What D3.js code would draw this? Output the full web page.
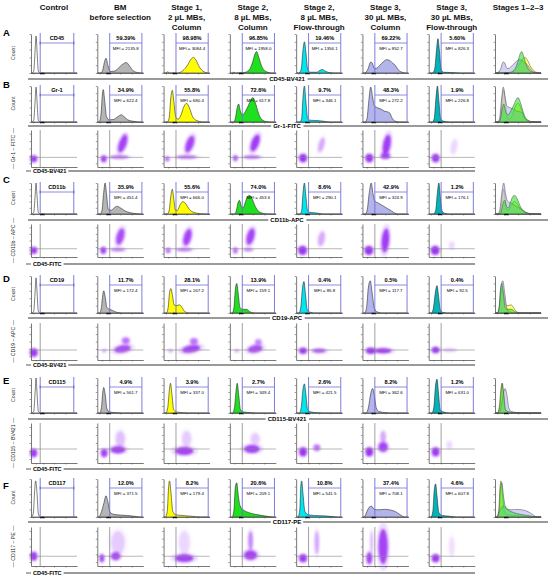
<!DOCTYPE html>
<html><head><meta charset="utf-8">
<script src="https://cdn.jsdelivr.net/npm/d3@7"></script>
<style>body{margin:0;background:#fff}svg{display:block;font-family:"Liberation Sans",Arial,sans-serif}</style>
</head><body><svg id="c" width="550" height="581"></svg>
<script>
// ---------------- DATA ----------------
const columnTitles = [["Control"],["BM","before selection"],["Stage 1,","2 µL MBs,","Column"],["Stage 2,","8 µL MBs,","Column"],
  ["Stage 2,","8 µL MBs,","Flow-through"],["Stage 3,","30 µL MBs,","Column"],["Stage 3,","30 µL MBs,","Flow-through"],["Stages 1–2–3"]];
const rowLetters = ["A","B","C","D","E","F"];
const markers = ["CD45","Gr-1","CD11b","CD19","CD115","CD117"];
const histAxisLabels = ["CD45-BV421","Gr-1-FITC","CD11b-APC","CD19-APC","CD115-BV421","CD117-PE"];
const dotYLabels = [null,"— Gr-1 – FITC —","— CD11b – APC —","— CD19 – APC —","— CD115 – BV421 —","— CD117 – PE —"];
const dotXLabels = [null,"CD45-BV421","CD45-FITC","CD45-BV421","CD45-FITC","CD45-FITC"];
const percents = [
  ["59.39%","98.98%","96.85%","19.46%","69.22%","5.60%"],
  ["34.9%","55.8%","72.6%","9.7%","48.3%","1.9%"],
  ["35.9%","55.6%","74.0%","8.6%","42.9%","1.2%"],
  ["11.7%","28.1%","13.9%","0.4%","0.5%","0.4%"],
  ["4.9%","3.9%","2.7%","2.6%","8.2%","1.2%"],
  ["12.0%","8.2%","20.6%","10.8%","37.4%","4.6%"]];
const mfis = [
  ["2135.8","3084.4","1958.0","1356.1","852.7","826.3"],
  ["622.4","680.4","617.8","346.1","272.2","226.8"],
  ["451.4","666.0","453.6","290.1","324.9","176.1"],
  ["172.4","167.2","159.1","85.8","117.7","92.5"],
  ["561.7","337.0","349.4","421.5","362.6","631.0"],
  ["371.5","179.4","209.1","541.5","708.1","607.8"]];

// histogram key points [relative fluorescence, relative count]; order: control, BM, S1, S2 col, S2 FT, S3 col, S3 FT
const histCD45 = [
  [[0.02,0],[0.06,0.05],[0.09,0.6],[0.11,0.95],[0.13,0.6],[0.16,0.05],[0.2,0]],
  [[0.08,0],[0.12,0.08],[0.16,0.3],[0.19,0.38],[0.23,0.2],[0.28,0.04],[0.38,0.05],[0.48,0.15],[0.57,0.24],[0.63,0.27],[0.7,0.18],[0.78,0.06],[0.88,0.01],[0.95,0]],
  [[0.05,0],[0.09,0.03],[0.13,0],[0.3,0],[0.42,0.06],[0.52,0.2],[0.6,0.36],[0.65,0.4],[0.7,0.34],[0.78,0.15],[0.88,0.03],[0.97,0]],
  [[0.05,0],[0.08,0.02],[0.12,0],[0.3,0.01],[0.42,0.08],[0.5,0.3],[0.55,0.5],[0.58,0.55],[0.63,0.4],[0.7,0.15],[0.8,0.03],[0.9,0]],
  [[0.06,0],[0.11,0.1],[0.15,0.6],[0.18,0.8],[0.21,0.55],[0.25,0.1],[0.3,0.02],[0.45,0.02],[0.52,0.07],[0.57,0.09],[0.63,0.05],[0.72,0.01],[0.85,0]],
  [[0.05,0],[0.12,0.1],[0.18,0.28],[0.21,0.26],[0.26,0.12],[0.3,0.12],[0.38,0.2],[0.45,0.28],[0.52,0.34],[0.58,0.33],[0.65,0.26],[0.71,0.2],[0.78,0.08],[0.86,0.02],[0.94,0]],
  [[0.08,0],[0.13,0.1],[0.17,0.6],[0.2,0.88],[0.23,0.6],[0.27,0.1],[0.32,0.02],[0.5,0.01],[0.7,0]]];
const histGr1 = [
  [[0.02,0],[0.06,0.05],[0.09,0.6],[0.11,0.97],[0.13,0.6],[0.16,0.05],[0.2,0]],
  [[0.04,0],[0.08,0.2],[0.11,0.75],[0.13,0.9],[0.16,0.6],[0.2,0.15],[0.26,0.06],[0.35,0.07],[0.45,0.15],[0.52,0.2],[0.58,0.15],[0.66,0.06],[0.78,0.02],[0.9,0]],
  [[0.08,0],[0.12,0.1],[0.16,0.7],[0.19,0.88],[0.22,0.6],[0.27,0.12],[0.32,0.08],[0.38,0.2],[0.44,0.42],[0.5,0.52],[0.56,0.4],[0.63,0.15],[0.72,0.04],[0.85,0]],
  [[0.08,0],[0.12,0.1],[0.16,0.4],[0.19,0.5],[0.23,0.3],[0.28,0.2],[0.34,0.3],[0.4,0.45],[0.46,0.62],[0.5,0.68],[0.55,0.55],[0.62,0.25],[0.7,0.06],[0.8,0.01],[0.9,0]],
  [[0.08,0],[0.12,0.1],[0.15,0.7],[0.18,1.0],[0.21,0.6],[0.25,0.1],[0.3,0.05],[0.45,0.04],[0.55,0.03],[0.65,0.01],[0.75,0]],
  [[0.06,0],[0.1,0.1],[0.14,0.6],[0.18,0.97],[0.22,0.7],[0.26,0.45],[0.32,0.4],[0.4,0.36],[0.48,0.3],[0.55,0.28],[0.6,0.24],[0.64,0.12],[0.7,0.03],[0.8,0]],
  [[0.08,0],[0.12,0.1],[0.16,0.7],[0.19,1.0],[0.22,0.6],[0.26,0.1],[0.32,0.02],[0.45,0]]];
const histCD11b = [
  [[0.02,0],[0.06,0.05],[0.09,0.6],[0.11,1.0],[0.13,0.6],[0.16,0.05],[0.2,0]],
  [[0.06,0],[0.1,0.1],[0.14,0.7],[0.17,1.0],[0.2,0.65],[0.24,0.15],[0.3,0.12],[0.37,0.2],[0.43,0.25],[0.5,0.2],[0.6,0.1],[0.72,0.04],[0.85,0.01],[0.95,0]],
  [[0.08,0],[0.12,0.1],[0.16,0.6],[0.19,0.8],[0.22,0.5],[0.26,0.12],[0.3,0.12],[0.36,0.3],[0.42,0.4],[0.48,0.33],[0.56,0.15],[0.66,0.05],[0.8,0.01],[0.9,0]],
  [[0.1,0],[0.14,0.1],[0.18,0.38],[0.21,0.44],[0.25,0.25],[0.29,0.2],[0.34,0.4],[0.39,0.57],[0.43,0.6],[0.48,0.5],[0.55,0.25],[0.63,0.08],[0.72,0.02],[0.85,0]],
  [[0.08,0],[0.12,0.1],[0.15,0.7],[0.18,1.0],[0.21,0.6],[0.25,0.1],[0.3,0.05],[0.4,0.04],[0.5,0.02],[0.6,0]],
  [[0.06,0],[0.1,0.1],[0.15,0.7],[0.19,1.0],[0.23,0.65],[0.27,0.42],[0.35,0.35],[0.45,0.26],[0.55,0.17],[0.63,0.1],[0.7,0.03],[0.78,0]],
  [[0.1,0],[0.15,0.1],[0.19,0.7],[0.22,1.0],[0.25,0.6],[0.29,0.1],[0.35,0.02],[0.45,0]]];
const histCD19 = [
  [[0.02,0],[0.06,0.05],[0.09,0.6],[0.11,0.95],[0.13,0.6],[0.16,0.05],[0.2,0]],
  [[0.05,0],[0.09,0.15],[0.12,0.5],[0.14,0.6],[0.17,0.45],[0.21,0.15],[0.27,0.1],[0.33,0.07],[0.42,0.02],[0.55,0]],
  [[0.06,0],[0.1,0.15],[0.13,0.55],[0.16,0.66],[0.19,0.5],[0.23,0.22],[0.28,0.2],[0.35,0.22],[0.4,0.15],[0.46,0.04],[0.55,0]],
  [[0.05,0],[0.09,0.15],[0.12,0.65],[0.15,0.8],[0.18,0.55],[0.22,0.15],[0.28,0.1],[0.36,0.1],[0.44,0.03],[0.55,0]],
  [[0.06,0],[0.1,0.15],[0.14,0.7],[0.17,0.85],[0.2,0.55],[0.24,0.1],[0.3,0.02],[0.4,0]],
  [[0.05,0],[0.09,0.15],[0.13,0.7],[0.17,0.87],[0.21,0.55],[0.26,0.12],[0.32,0.03],[0.42,0]],
  [[0.06,0],[0.1,0.12],[0.15,0.6],[0.18,0.74],[0.21,0.5],[0.25,0.1],[0.3,0.02],[0.4,0]]];
const histCD115 = [
  [[0.02,0],[0.06,0.05],[0.09,0.6],[0.11,1.0],[0.13,0.6],[0.16,0.05],[0.2,0]],
  [[0.05,0],[0.09,0.15],[0.12,0.6],[0.14,0.73],[0.17,0.55],[0.21,0.12],[0.27,0.03],[0.4,0.01],[0.55,0]],
  [[0.05,0],[0.09,0.15],[0.13,0.7],[0.15,0.85],[0.18,0.55],[0.22,0.1],[0.28,0.03],[0.4,0.01],[0.55,0]],
  [[0.06,0],[0.1,0.15],[0.14,0.7],[0.16,0.85],[0.19,0.55],[0.23,0.1],[0.3,0.03],[0.45,0.01],[0.6,0]],
  [[0.07,0],[0.11,0.15],[0.15,0.7],[0.18,0.83],[0.21,0.55],[0.25,0.1],[0.32,0.03],[0.45,0.01],[0.6,0]],
  [[0.08,0],[0.13,0.15],[0.18,0.55],[0.22,0.7],[0.26,0.5],[0.3,0.15],[0.36,0.04],[0.5,0.01],[0.6,0]],
  [[0.07,0],[0.11,0.15],[0.15,0.8],[0.18,0.97],[0.21,0.6],[0.25,0.1],[0.32,0.03],[0.45,0]]];
const histCD117 = [
  [[0.01,0],[0.05,0.1],[0.08,0.7],[0.1,0.95],[0.13,0.65],[0.16,0.08],[0.2,0]],
  [[0.03,0],[0.08,0.1],[0.14,0.35],[0.19,0.56],[0.23,0.4],[0.28,0.12],[0.36,0.07],[0.5,0.05],[0.65,0.04],[0.8,0.02],[0.92,0]],
  [[0.04,0],[0.08,0.15],[0.11,0.8],[0.13,0.95],[0.16,0.65],[0.2,0.15],[0.26,0.06],[0.4,0.04],[0.6,0.02],[0.8,0]],
  [[0.05,0],[0.09,0.2],[0.12,0.8],[0.15,0.9],[0.18,0.6],[0.22,0.3],[0.3,0.18],[0.4,0.12],[0.55,0.07],[0.7,0.04],[0.85,0.01],[0.95,0]],
  [[0.04,0],[0.08,0.2],[0.1,0.8],[0.12,0.95],[0.15,0.6],[0.19,0.15],[0.26,0.06],[0.4,0.04],[0.6,0.03],[0.8,0.01],[0.9,0]],
  [[0.04,0],[0.1,0.15],[0.16,0.27],[0.2,0.28],[0.26,0.2],[0.35,0.19],[0.5,0.2],[0.62,0.18],[0.72,0.14],[0.82,0.06],[0.92,0]],
  [[0.05,0],[0.09,0.15],[0.12,0.7],[0.15,0.87],[0.18,0.55],[0.22,0.12],[0.3,0.04],[0.45,0.02],[0.6,0]]];

// dot-plot clusters [CD45 position, marker position, spreadX, spreadY, tilt°, density]; columns: control..S3 FT
const quadrantLevels = [null,0.26,0.25,0.27,0.35,0.25];
const dotsGr1 = [
  [[0.06,0.22,0.07,0.09,0,0.9]],
  [[0.14,0.22,0.06,0.09,0,0.85],[0.48,0.27,0.2,0.05,0,0.6],[0.55,0.62,0.08,0.24,20,0.85],[0.6,0.82,0.05,0.08,0,0.4]],
  [[0.08,0.22,0.05,0.07,0,0.6],[0.5,0.27,0.22,0.05,0,0.6],[0.57,0.62,0.08,0.24,20,0.85]],
  [[0.12,0.24,0.05,0.08,0,0.7],[0.48,0.27,0.18,0.05,0,0.6],[0.55,0.65,0.08,0.24,20,0.9]],
  [[0.15,0.24,0.08,0.11,0,0.95],[0.55,0.6,0.06,0.2,15,0.35]],
  [[0.15,0.24,0.08,0.11,0,0.95],[0.5,0.3,0.1,0.08,0,0.8],[0.53,0.6,0.08,0.28,10,0.9]],
  [[0.15,0.24,0.08,0.11,0,0.9],[0.55,0.55,0.07,0.2,10,0.15]]];
const dotsCD11b = [
  [[0.06,0.2,0.07,0.1,0,0.9]],
  [[0.13,0.2,0.06,0.1,0,0.85],[0.45,0.22,0.15,0.05,0,0.55],[0.5,0.62,0.08,0.26,15,0.8]],
  [[0.1,0.2,0.05,0.08,0,0.6],[0.45,0.22,0.17,0.05,0,0.55],[0.52,0.6,0.08,0.26,15,0.85]],
  [[0.12,0.2,0.05,0.09,0,0.6],[0.4,0.22,0.1,0.05,0,0.5],[0.45,0.62,0.08,0.26,15,0.85]],
  [[0.14,0.2,0.09,0.13,0,0.95],[0.55,0.55,0.07,0.22,10,0.35]],
  [[0.14,0.2,0.09,0.13,0,0.95],[0.5,0.5,0.08,0.36,5,0.9]],
  [[0.14,0.2,0.09,0.13,0,0.95],[0.5,0.35,0.06,0.12,0,0.15]]];
const dotsCD19 = [
  [[0.06,0.2,0.08,0.11,0,0.9]],
  [[0.15,0.25,0.05,0.05,0,0.3],[0.55,0.3,0.18,0.1,-10,0.8],[0.62,0.52,0.08,0.09,0,0.6]],
  [[0.15,0.25,0.05,0.05,0,0.3],[0.6,0.3,0.2,0.1,-10,0.85],[0.66,0.5,0.08,0.09,0,0.6]],
  [[0.15,0.25,0.05,0.05,0,0.3],[0.55,0.3,0.16,0.1,-10,0.8],[0.62,0.48,0.07,0.08,0,0.5]],
  [[0.15,0.25,0.08,0.08,0,0.95],[0.5,0.25,0.15,0.06,0,0.7]],
  [[0.18,0.25,0.1,0.08,0,0.95],[0.45,0.25,0.18,0.07,0,0.9]],
  [[0.15,0.27,0.08,0.08,0,0.95],[0.45,0.27,0.15,0.05,0,0.25]]];
const dotsCD115 = [
  [[0.06,0.25,0.07,0.1,0,0.9]],
  [[0.15,0.25,0.07,0.1,0,0.85],[0.45,0.33,0.16,0.09,0,0.85],[0.5,0.6,0.1,0.2,0,0.25]],
  [[0.45,0.3,0.2,0.1,0,0.85],[0.5,0.6,0.1,0.2,0,0.2]],
  [[0.48,0.35,0.17,0.1,0,0.85],[0.55,0.6,0.1,0.15,0,0.2]],
  [[0.15,0.28,0.08,0.11,0,0.95],[0.45,0.38,0.07,0.08,0,0.6]],
  [[0.15,0.28,0.08,0.11,0,0.95],[0.45,0.4,0.1,0.12,0,0.85],[0.45,0.65,0.06,0.15,0,0.35]],
  [[0.15,0.28,0.08,0.11,0,0.9],[0.45,0.45,0.06,0.1,0,0.15]]];
const dotsCD117 = [
  [[0.06,0.25,0.07,0.11,0,0.9]],
  [[0.1,0.2,0.05,0.1,0,0.8],[0.4,0.25,0.1,0.1,0,0.8],[0.45,0.6,0.15,0.3,0,0.2]],
  [[0.45,0.2,0.2,0.1,0,0.85],[0.45,0.6,0.12,0.3,0,0.15]],
  [[0.45,0.28,0.14,0.12,0,0.85],[0.45,0.65,0.05,0.25,0,0.5]],
  [[0.15,0.2,0.08,0.1,0,0.9],[0.45,0.6,0.05,0.3,0,0.35]],
  [[0.15,0.2,0.06,0.15,0,0.85],[0.45,0.5,0.1,0.45,0,0.85],[0.2,0.6,0.03,0.3,0,0.3]],
  [[0.15,0.2,0.08,0.1,0,0.9],[0.5,0.5,0.06,0.25,0,0.12]]];

const hists = [histCD45, histGr1, histCD11b, histCD19, histCD115, histCD117];
const dots = [null, dotsGr1, dotsCD11b, dotsCD19, dotsCD115, dotsCD117];

// ---------------- LAYOUT / STYLE ----------------
const fills = ["#ffffff","#b5b5b5","#ffff00","#1fe01f","#00e6ee","#b4b4ec","#00b4b8"];
const gateColor = "#6f6fd8", purple = "#9a2cf4";
const rowsY = [
  {letter:36, hTop:33, hBot:73, sep:79},
  {letter:88, hTop:85, hBot:122, sep:126, dTop:130, dBot:167, dSep:171},
  {letter:183, hTop:182, hBot:214, sep:220, dTop:224, dBot:257, dSep:264},
  {letter:282, hTop:275, hBot:313, sep:318, dTop:323, dBot:360, dSep:365},
  {letter:384, hTop:377, hBot:413, sep:419, dTop:423, dBot:463, dSep:469},
  {letter:489, hTop:478, hBot:517, sep:522, dTop:527, dBot:566, dSep:573}];
const colX = d3.scaleLinear().domain([0,7]).range([31,495]);
const panelW = 46;

const svg = d3.select("#c");
const defs = svg.append("defs");
defs.append("filter").attr("id","blur").attr("x","-60%").attr("y","-60%").attr("width","220%").attr("height","220%")
  .append("feGaussianBlur").attr("stdDeviation",1.1);

// headers
columnTitles.forEach((lines,c)=>{
  const t = svg.append("text").attr("x",colX(c)+23).attr("text-anchor","middle")
    .attr("font-size",8).attr("font-weight","bold").attr("fill","#111");
  lines.forEach((s,i)=>t.append("tspan").attr("x",colX(c)+23).attr("y",10+i*10).text(s));
});

const pad = pts => { const p = pts.slice(); if(p[0][0]>0) p.unshift([0,0]); if(p[p.length-1][0]<1) p.push([1,0]); return p; };
const styleAxis = g => { g.select(".domain").attr("stroke","#555").attr("stroke-width",0.8); g.selectAll(".tick line").attr("stroke","#555").attr("stroke-width",0.6); };

rowsY.forEach((L,ri)=>{
  svg.append("text").attr("x",3).attr("y",L.letter).attr("font-size",9.5).attr("font-weight","bold").text(rowLetters[ri]);
  svg.append("text").attr("transform",`translate(15,${(L.hTop+L.hBot)/2}) rotate(-90)`).attr("text-anchor","middle")
    .attr("font-size",5.2).attr("fill","#333").text("Count");

  for(let c=0;c<8;c++){
    const x0 = colX(c);
    const xs = d3.scaleLinear([0,1],[x0,x0+panelW]);
    const ys = d3.scaleLinear([0,1],[L.hBot,L.hTop+1]);
    const g = svg.append("g");
    const area = d3.area().x(d=>xs(d[0])).y0(L.hBot).y1(d=>ys(d[1])).curve(d3.curveMonotoneX);
    if(c<7){
      g.append("path").attr("d",area(pad(hists[ri][c]))).attr("fill",fills[c]).attr("stroke","#2a2a2a").attr("stroke-width",0.6);
    } else {
      [[2,0.55],[5,0.6],[3,0.55]].forEach(([k,o])=>{
        g.append("path").attr("d",area(pad(hists[ri][k]))).attr("fill",fills[k]).attr("fill-opacity",o)
          .attr("stroke","#444").attr("stroke-width",0.5);
      });
    }
    g.append("g").attr("transform",`translate(${x0},0)`)
      .call(d3.axisLeft(ys).tickValues([0,0.2,0.4,0.6,0.8,1]).tickSize(1.5).tickSizeOuter(0).tickFormat("")).call(styleAxis);
    g.append("g").attr("transform",`translate(0,${L.hBot})`)
      .call(d3.axisBottom(xs).tickValues([0.05,0.2,0.28,0.5,0.75]).tickSize(1.5).tickSizeOuter(0).tickFormat("")).call(styleAxis);
    g.append("line").attr("x1",xs(0.2)).attr("x2",xs(0.29)).attr("y1",L.hBot+0.5).attr("y2",L.hBot+0.5).attr("stroke","#111").attr("stroke-width",1.4);
    if(c<7){
      const gl = c===0?0.2:0.27, gr = c===0?0.93:0.97;
      const gy = L.hTop+10;
      g.append("line").attr("x1",xs(gl)).attr("x2",xs(gl)).attr("y1",L.hTop).attr("y2",L.hBot).attr("stroke",gateColor).attr("stroke-width",0.9);
      g.append("line").attr("x1",xs(gr)).attr("x2",xs(gr)).attr("y1",L.hTop).attr("y2",L.hBot).attr("stroke",gateColor).attr("stroke-width",0.9);
      g.append("line").attr("x1",xs(gl)).attr("x2",xs(gr)).attr("y1",gy).attr("y2",gy).attr("stroke",gateColor).attr("stroke-width",0.8);
      const cx = xs((gl+gr)/2);
      if(c===0){
        [gl,gr].forEach(u=>g.append("line").attr("x1",xs(u)).attr("x2",xs(u)).attr("y1",gy-1.5).attr("y2",gy+1.5).attr("stroke",gateColor).attr("stroke-width",1.2));
        g.append("text").attr("x",cx).attr("y",L.hTop+6.5).attr("text-anchor","middle").attr("font-size",5.6).attr("font-weight","bold").text(markers[ri]);
      } else {
        g.append("text").attr("x",cx).attr("y",L.hTop+6.5).attr("text-anchor","middle").attr("font-size",5.6).attr("font-weight","bold").text(percents[ri][c-1]);
        g.append("text").attr("x",cx).attr("y",L.hTop+16.5).attr("text-anchor","middle").attr("font-size",4.4).text("MFI = "+mfis[ri][c-1]);
      }
    }
  }
  // separator with label
  svg.append("line").attr("x1",28).attr("x2",548).attr("y1",L.sep).attr("y2",L.sep).attr("stroke","#9a9a9a").attr("stroke-width",1.8);
  const sg = svg.append("g");
  const sr = sg.append("rect").attr("fill","#fff");
  const st = sg.append("text").attr("x",287).attr("y",L.sep+2).attr("text-anchor","middle").attr("font-size",6).attr("font-weight","bold").text(histAxisLabels[ri]);
  const bb = st.node().getBBox();
  sr.attr("x",bb.x-2).attr("y",L.sep-2).attr("width",bb.width+4).attr("height",4);

  if(ri>0){
    svg.append("text").attr("transform",`translate(15,${(L.dTop+L.dBot)/2}) rotate(-90)`).attr("text-anchor","middle")
      .attr("font-size",5.2).attr("fill","#222").text(dotYLabels[ri]);
    for(let c=0;c<7;c++){
      const x0 = colX(c);
      const xs = d3.scaleLinear([0,1],[x0,x0+panelW]);
      const ys = d3.scaleLinear([0,1],[L.dBot,L.dTop]);
      const g = svg.append("g");
      const w = panelW, h = L.dBot-L.dTop;
      g.selectAll("ellipse.halo").data(dots[ri][c]).join("ellipse").attr("class","halo")
        .attr("cx",d=>xs(d[0])).attr("cy",d=>ys(d[1])).attr("rx",d=>d[2]*w*1.5).attr("ry",d=>d[3]*h*1.4)
        .attr("transform",d=>`rotate(${d[4]},${xs(d[0])},${ys(d[1])})`)
        .attr("fill","#c58cff").attr("opacity",d=>d[5]*0.35).attr("filter","url(#blur)");
      g.selectAll("ellipse.core").data(dots[ri][c]).join("ellipse").attr("class","core")
        .attr("cx",d=>xs(d[0])).attr("cy",d=>ys(d[1])).attr("rx",d=>d[2]*w).attr("ry",d=>d[3]*h)
        .attr("transform",d=>`rotate(${d[4]},${xs(d[0])},${ys(d[1])})`)
        .attr("fill",purple).attr("opacity",d=>d[5]).attr("filter","url(#blur)");
      const gl = c===0?0.2:0.27;
      g.append("line").attr("x1",xs(gl)).attr("x2",xs(gl)).attr("y1",L.dTop).attr("y2",L.dBot).attr("stroke","#777").attr("stroke-width",0.7);
      g.append("line").attr("x1",x0).attr("x2",xs(1)).attr("y1",ys(quadrantLevels[ri])).attr("y2",ys(quadrantLevels[ri])).attr("stroke","#888").attr("stroke-width",0.6);
      g.append("g").attr("transform",`translate(${x0},0)`)
        .call(d3.axisLeft(ys).tickValues([0.1,0.3,0.5,0.7,0.9]).tickSize(1.5).tickSizeOuter(0).tickFormat("")).call(styleAxis);
      g.append("g").attr("transform",`translate(0,${L.dBot})`)
        .call(d3.axisBottom(xs).tickValues([0.1,0.27,0.5,0.75]).tickSize(1.5).tickSizeOuter(0).tickFormat("")).call(styleAxis);
    }
    svg.append("line").attr("x1",26).attr("x2",31).attr("y1",L.dSep).attr("y2",L.dSep).attr("stroke","#333").attr("stroke-width",0.8);
    const xt = svg.append("text").attr("x",33).attr("y",L.dSep+2).attr("font-size",5.6).attr("font-weight","bold").text(dotXLabels[ri]);
    const xb = xt.node().getBBox();
    svg.append("line").attr("x1",xb.x+xb.width+2).attr("x2",475).attr("y1",L.dSep).attr("y2",L.dSep).attr("stroke","#9a9a9a").attr("stroke-width",1.8);
  }
});
</script></body></html>
